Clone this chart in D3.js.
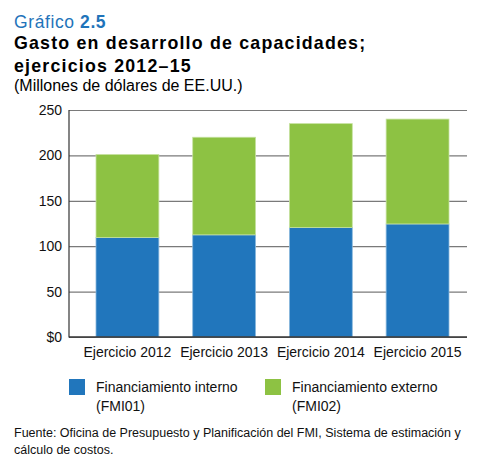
<!DOCTYPE html>
<html><head><meta charset="utf-8">
<script src="https://cdn.jsdelivr.net/npm/d3@7"></script>
<style>body{margin:0;background:#fff;}svg{display:block;font-family:"Liberation Sans",Arial,sans-serif;}</style>
</head><body>
<script>
const categories = ["Ejercicio 2012","Ejercicio 2013","Ejercicio 2014","Ejercicio 2015"];
const interno = [109.5, 112.5, 120.5, 124.5];
const externo = [91.5, 107.5, 114.5, 115.5];
const yTicks = [0, 50, 100, 150, 200, 250];
const seriesNames = ["Financiamiento interno", "Financiamiento externo"];
const seriesCodes = ["(FMI01)", "(FMI02)"];
const colors = ["#2176bc", "#8dc243"];

(function () {
const W = 500, H = 472;
const svg = d3.select("body").append("svg").attr("width", W).attr("height", H);

// Titles
const t1 = svg.append("text").attr("x", 14).attr("y", 27.5).attr("font-size", 17.5).attr("fill", "#1f74ba").attr("letter-spacing", 0.6);
t1.append("tspan").text("Gráfico ");
t1.append("tspan").attr("font-weight", "bold").text("2.5");
svg.append("text").attr("x", 14).attr("y", 49).attr("font-size", 17.8).attr("font-weight", "bold").attr("letter-spacing", 1.2).text("Gasto en desarrollo de capacidades;");
svg.append("text").attr("x", 14).attr("y", 71.5).attr("font-size", 17.8).attr("font-weight", "bold").attr("letter-spacing", 1.2).text("ejercicios 2012–15");
svg.append("text").attr("x", 14).attr("y", 90.5).attr("font-size", 16).text("(Millones de dólares de EE.UU.)");

const pl = 69, pr = 467, pt = 110, pb = 337;
const y = d3.scaleLinear().domain([0, 250]).range([pb, pt]);
const x = d3.scaleBand().domain(categories).range([96, 449]).paddingInner(0.35).paddingOuter(0);

// gridlines
const yAxis = d3.axisLeft(y).tickValues(yTicks).tickSize(-(pr - pl)).tickPadding(7)
  .tickFormat(d => d === 0 ? "$0" : d);
const gy = svg.append("g").attr("transform", `translate(${pl},0)`).call(yAxis);
gy.select(".domain").remove();
gy.selectAll(".tick line").attr("stroke", "#7a7a7a").attr("stroke-width", 1.2);
gy.selectAll(".tick text").attr("font-size", 14).attr("fill", "#111").attr("font-family", "Liberation Sans, Arial, sans-serif");

// bars
const stack = categories.map((c, i) => ({c, a: interno[i], b: externo[i]}));
svg.append("g").selectAll("rect").data(stack).join("rect")
  .attr("x", d => x(d.c)).attr("width", x.bandwidth())
  .attr("y", d => y(d.a)).attr("height", d => y(0) - y(d.a))
  .attr("fill", colors[0]).attr("stroke", "#8ab8dd").attr("stroke-width", 0.8);
svg.append("g").selectAll("rect").data(stack).join("rect")
  .attr("x", d => x(d.c)).attr("width", x.bandwidth())
  .attr("y", d => y(d.a + d.b)).attr("height", d => y(d.a) - y(d.a + d.b))
  .attr("fill", colors[1]).attr("stroke", "#c6e2a0").attr("stroke-width", 0.8);

// axes lines
svg.append("line").attr("x1", pl).attr("x2", pl).attr("y1", pt).attr("y2", pb + 0.5).attr("stroke", "#333").attr("stroke-width", 1.2);
svg.append("line").attr("x1", pl).attr("x2", pr).attr("y1", pb).attr("y2", pb).attr("stroke", "#333").attr("stroke-width", 1.4);

// x labels
const xAxis = d3.axisBottom(x).tickSize(0).tickPadding(10);
const gx = svg.append("g").attr("transform", `translate(0,${pb})`).call(xAxis);
gx.select(".domain").remove();
gx.selectAll(".tick text").attr("font-size", 14).attr("fill", "#111").attr("font-family", "Liberation Sans, Arial, sans-serif");

// legend
const lx = [69, 265];
seriesNames.forEach((n, i) => {
  svg.append("rect").attr("x", lx[i]).attr("y", 379).attr("width", 16).attr("height", 16).attr("fill", colors[i]);
  svg.append("text").attr("x", lx[i] + 27).attr("y", 392).attr("font-size", 14).attr("fill", "#111").text(n);
  svg.append("text").attr("x", lx[i] + 27).attr("y", 411).attr("font-size", 14).attr("fill", "#111").text(seriesCodes[i]);
});

// source
svg.append("text").attr("x", 14).attr("y", 437).attr("font-size", 12.5).attr("fill", "#111")
  .text("Fuente: Oficina de Presupuesto y Planificación del FMI, Sistema de estimación y");
svg.append("text").attr("x", 14).attr("y", 454).attr("font-size", 12.5).attr("fill", "#111")
  .text("cálculo de costos.");
})();
</script>
</body></html>
